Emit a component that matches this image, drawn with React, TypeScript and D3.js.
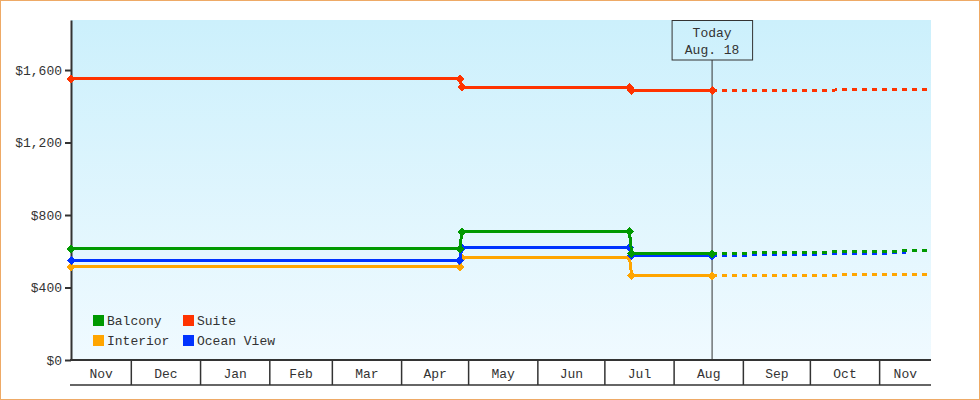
import { useRef, useEffect } from "react";
import * as d3 from "d3";

// cabin types, drawn bottom to top
const cabinNames = ["Interior", "Ocean View", "Balcony", "Suite"];
const cabinColors = ["#ffa500", "#0033ff", "#009900", "#ff3300"];

// price history up to today
const historyDates = ["2018-11-04", "2019-04-27", "2019-04-28", "2019-07-12", "2019-07-13", "2019-08-18"];
const interiorHistory = [514, 514, 564, 564, 465, 465];
const oceanViewHistory = [549, 549, 619, 619, 575, 575];
const balconyHistory = [613, 613, 707, 707, 586, 586];
const suiteHistory = [1551, 1551, 1505, 1505, 1487, 1487];

// forecast after today
const forecastDates = ["2019-08-18", "2019-09-01", "2019-10-01", "2019-11-01", "2019-11-13", "2019-11-24"];
const interiorForecast = [465, 466, 468, 470, 471, 472];
const oceanViewForecast = [575, 579, 584, 589, 592, null];
const balconyForecast = [586, 590, 594, 600, 602, 604];
const suiteForecast = [1487, 1488, 1489, 1491, 1492, 1492];

const yTicks = [0, 400, 800, 1200, 1600];
const todayDate = "2019-08-18";
const todayLabel = ["Today", "Aug. 18"];
const legendOrder = ["Balcony", "Suite", "Interior", "Ocean View"];

const histories = [interiorHistory, oceanViewHistory, balconyHistory, suiteHistory];
const forecasts = [interiorForecast, oceanViewForecast, balconyForecast, suiteForecast];

const parse = d3.timeParse("%Y-%m-%d");
const FONT = "'Liberation Mono', 'DejaVu Sans Mono', monospace";
const INK = "#333";

const PriceChart = () => {
  const chartRef = useRef<HTMLDivElement>(null);

  useEffect(() => {
    const el = chartRef.current;
    const width = 980;
    const height = 400;
    const plot = { left: 71, right: 931, top: 20, bottom: 360 };

    const svg = d3
      .select(el)
      .append("svg")
      .attr("width", width)
      .attr("height", height)
      .style("display", "block")
      .style("font-family", FONT)
      .style("font-size", "13px");

    const grad = svg
      .append("defs")
      .append("linearGradient")
      .attr("id", "bg")
      .attr("x1", 0)
      .attr("y1", 0)
      .attr("x2", 0)
      .attr("y2", 1);
    grad.append("stop").attr("offset", "0%").attr("stop-color", "#ccf0fc");
    grad.append("stop").attr("offset", "100%").attr("stop-color", "#f0faff");

    svg
      .append("rect")
      .attr("x", 0.5)
      .attr("y", 0.5)
      .attr("width", width - 1)
      .attr("height", height - 1)
      .attr("fill", "#fff")
      .attr("stroke", "#eeaa66");

    const x = d3
      .scaleTime()
      .domain([parse("2018-11-04") as Date, parse("2019-11-24") as Date])
      .range([plot.left, plot.right]);
    const y = d3.scaleLinear().domain([0, 1876]).range([plot.bottom, plot.top]);

    svg
      .append("rect")
      .attr("x", plot.left)
      .attr("y", plot.top)
      .attr("width", plot.right - plot.left)
      .attr("height", plot.bottom - plot.top)
      .attr("fill", "url(#bg)");

    // month band axis
    const [d0, d1] = x.domain();
    const monthStarts = d3.timeMonth.range(d3.timeMonth.ceil(d0), d1);
    const edges = [plot.left, ...monthStarts.map(d => x(d)), plot.right];
    const bandStarts = [d0, ...monthStarts];
    const xAxis = svg.append("g").attr("stroke", INK);
    xAxis
      .append("line")
      .attr("x1", plot.left - 1)
      .attr("x2", plot.right)
      .attr("y1", 385)
      .attr("y2", 385)
      .attr("stroke-width", 1.5);
    xAxis
      .selectAll(".sep")
      .data(monthStarts)
      .enter()
      .append("line")
      .attr("x1", d => x(d))
      .attr("x2", d => x(d))
      .attr("y1", plot.bottom)
      .attr("y2", 385)
      .attr("stroke-width", 1.5);
    svg
      .append("g")
      .selectAll("text")
      .data(bandStarts)
      .enter()
      .append("text")
      .attr("x", (_d, i) => (edges[i] + edges[i + 1]) / 2)
      .attr("y", 377.5)
      .attr("text-anchor", "middle")
      .attr("fill", INK)
      .text(d => d3.timeFormat("%b")(d));
    svg
      .append("line")
      .attr("x1", plot.left - 1)
      .attr("x2", plot.right)
      .attr("y1", plot.bottom)
      .attr("y2", plot.bottom)
      .attr("stroke", INK)
      .attr("stroke-width", 2);

    // y axis
    const yAxis = svg
      .append("g")
      .attr("transform", `translate(${plot.left}, 0)`)
      .call(
        d3
          .axisLeft(y)
          .tickValues(yTicks)
          .tickFormat(d3.format("$,"))
          .tickSize(6)
          .tickSizeOuter(0)
          .tickPadding(3)
      );
    yAxis.attr("font-family", FONT).attr("font-size", 13);
    yAxis.select(".domain").attr("stroke", INK).attr("stroke-width", 2);
    yAxis.selectAll(".tick line").attr("stroke", INK).attr("stroke-width", 2);
    yAxis.selectAll(".tick text").attr("fill", INK);

    // today marker
    const tx = x(parse(todayDate) as Date);
    svg
      .append("line")
      .attr("x1", tx)
      .attr("x2", tx)
      .attr("y1", 60)
      .attr("y2", plot.bottom)
      .attr("stroke", INK)
      .attr("stroke-width", 1);
    svg
      .append("rect")
      .attr("x", tx - 40)
      .attr("y", 20.5)
      .attr("width", 80.5)
      .attr("height", 39.5)
      .attr("fill", "none")
      .attr("stroke", INK)
      .attr("stroke-width", 1);
    svg
      .selectAll(".today")
      .data(todayLabel)
      .enter()
      .append("text")
      .attr("x", tx)
      .attr("y", (_d, i) => 36.5 + i * 17)
      .attr("text-anchor", "middle")
      .attr("fill", INK)
      .text(d => d);

    const line = d3
      .line<[Date, number | null]>()
      .defined(d => d[1] != null)
      .x(d => x(d[0]))
      .y(d => y(d[1] as number));

    const hDates = historyDates.map(d => parse(d) as Date);
    const fDates = forecastDates.map(d => parse(d) as Date);

    cabinNames.forEach((_name, i) => {
      const g = svg.append("g").attr("shape-rendering", "crispEdges");
      const fPts = fDates.map((d, j) => [d, forecasts[i][j]] as [Date, number | null]);
      g.append("path")
        .attr("d", line(fPts))
        .attr("fill", "none")
        .attr("stroke", cabinColors[i])
        .attr("stroke-width", 3)
        .attr("stroke-dasharray", "5,5");
      const hPts = hDates.map((d, j) => [d, histories[i][j]] as [Date, number | null]);
      g.append("path")
        .attr("d", line(hPts))
        .attr("fill", "none")
        .attr("stroke", cabinColors[i])
        .attr("stroke-width", 3);
      g.selectAll(".pt")
        .data(hPts)
        .enter()
        .append("path")
        .attr("d", "M0,-4.5L4.5,0L0,4.5L-4.5,0Z")
        .attr("transform", d => `translate(${x(d[0])}, ${y(d[1] as number)})`)
        .attr("fill", cabinColors[i]);
    });

    // legend
    const legend = svg.append("g").attr("transform", "translate(93, 315)");
    legend
      .selectAll("g")
      .data(legendOrder)
      .enter()
      .append("g")
      .attr("transform", (_d, i) => `translate(${(i % 2) * 90}, ${Math.floor(i / 2) * 20})`)
      .each(function (d) {
        const item = d3.select(this);
        item
          .append("rect")
          .attr("width", 11)
          .attr("height", 11)
          .attr("fill", cabinColors[cabinNames.indexOf(d)]);
        item
          .append("text")
          .attr("x", 14)
          .attr("y", 10)
          .attr("fill", INK)
          .text(d);
      });

    return () => {
      d3.select(el).selectAll("svg").remove();
    };
  }, []);

  return <div ref={chartRef} style={{ position: "absolute", left: 0, top: 0 }}></div>;
};

export default PriceChart;
